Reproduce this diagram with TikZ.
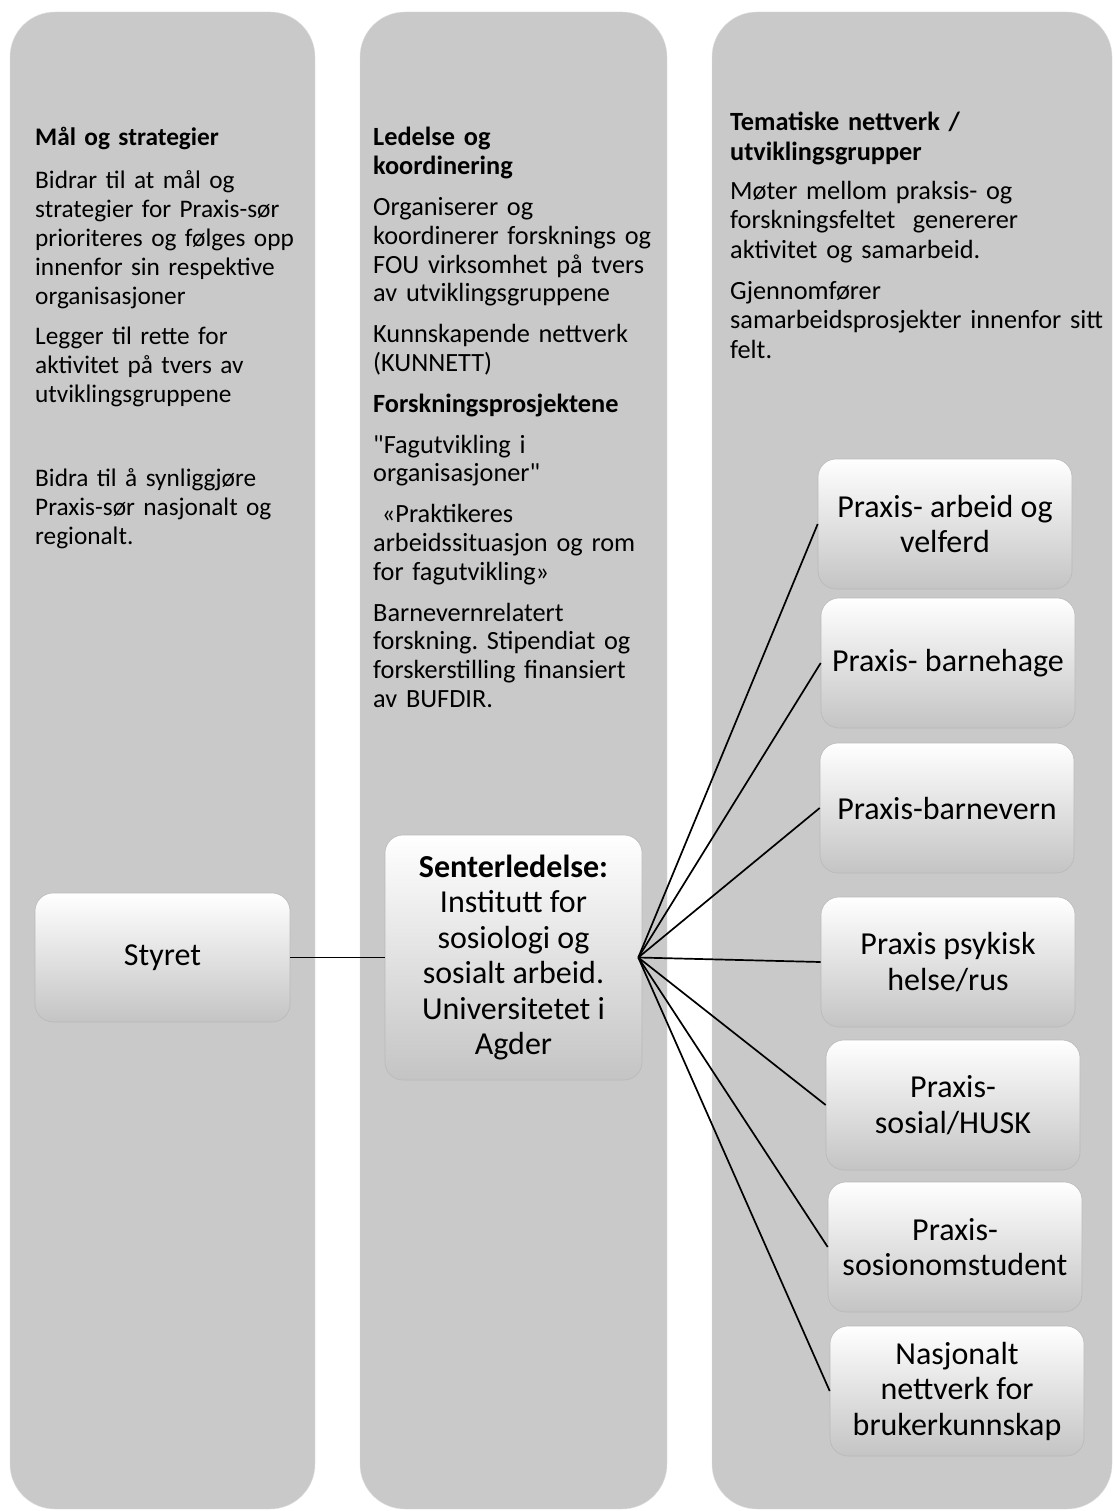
\documentclass[tikz,border=0pt]{standalone}
\usepackage{fontspec}
\setmainfont{Carlito}[Ligatures=TeXOff]
\usepackage{tikz}

\definecolor{colgray}{RGB}{201,201,201}
\definecolor{boxlow}{RGB}{196,196,196}

\tikzset{
  column/.style={fill=colgray, draw=gray!25, rounded corners=45pt},
  coltext/.style={anchor=base west, inner sep=0pt, align=left, text width=#1},
  unitbox/.style={shape=rectangle, rounded corners=18pt, draw=gray!55, line width=0.6pt,
    top color=white, bottom color=boxlow, minimum width=254pt, minimum height=130pt,
    align=center, inner sep=2pt, font=\fontsize{32}{35.5}\selectfont},
  link/.style={black, line width=1.7pt}
}

\begin{document}
\frenchspacing
\begin{tikzpicture}[x=1pt,y=-1pt]
		\useasboundingbox (0,0) rectangle (1114,1511);

		% columns
		\draw[column] (10,12) rectangle (315,1509);
		\draw[column] (360,12) rectangle (667,1509);
		\draw[column] (712,12) rectangle (1112,1509);

		% column texts
		\node[coltext=300pt, font=\fontsize{25.3}{29}\selectfont] (goals) at (35,146)
			{\textbf{Mål og strategier}\\[14pt]
			Bidrar til at mål og\\ strategier for Praxis-sør\\ prioriteres og følges opp\\ innenfor sin respektive\\ organisasjoner\\[11pt]
			Legger til rette for\\ aktivitet på tvers av\\ utviklingsgruppene\\[55pt]
			Bidra til å synliggjøre\\ Praxis-sør nasjonalt og\\ regionalt.};

		\node[coltext=320pt, font=\fontsize{26.3}{28.8}\selectfont] (lead) at (373,146)
			{\textbf{Ledelse og}\\ \textbf{koordinering}\\[12pt]
			Organiserer og\\ koordinerer forsknings og\\ FOU virksomhet på tvers\\ av utviklingsgruppene\\[12pt]
			Kunnskapende nettverk\\ (KUNNETT)\\[12pt]
			\textbf{Forskningsprosjektene}\\[12pt]
			"Fagutvikling i\\ organisasjoner"\\[12pt]
			\ «Praktikeres\\ arbeidssituasjon og rom\\ for fagutvikling»\\[12pt]
			Barnevernrelatert\\ forskning. Stipendiat og\\ forskerstilling finansiert\\ av BUFDIR.};

		\node[coltext=420pt, font=\fontsize{26.3}{29.3}\selectfont] (theme) at (730,131)
			{\textbf{Tematiske nettverk /}\\ \textbf{utviklingsgrupper}\\[10pt]
			Møter mellom praksis- og\\ forskningsfeltet \ genererer\\ aktivitet og samarbeid.\\[12pt]
			Gjennomfører\\ samarbeidsprosjekter innenfor sitt\\ felt.};

		% boxes
		\node[unitbox, minimum width=255pt, minimum height=129pt] (styret) at (162.5,957.5) {Styret};
		\node[unitbox, minimum width=257pt, minimum height=245pt] (senter) at (513.5,957.5)
			{\textbf{Senterledelse:}\\ Institutt for\\ sosiologi og\\ sosialt arbeid.\\ Universitetet i\\ Agder};

		\node[unitbox] (tema1) at (945,524) {Praxis- arbeid og\\ velferd};
		\node[unitbox] (tema2) at (948,663) {Praxis- barnehage};
		\node[unitbox] (tema3) at (947,808) {Praxis-barnevern};
		\node[unitbox] (tema4) at (948,962) {Praxis psykisk\\ helse/rus};
		\node[unitbox] (tema5) at (953,1105) {Praxis-\\ sosial/HUSK};
		\node[unitbox] (tema6) at (955,1247) {Praxis-\\ sosionomstudent};
		\node[unitbox] (tema7) at (957,1391) {Nasjonalt\\ nettverk for\\ brukerkunnskap};

		% links
		\draw[link] (styret.east) -- (senter.west);
		\foreach \i in {1,...,7}
			\draw[link] ([xshift=-4pt]senter.east) -- (tema\i.west);
\end{tikzpicture}
\end{document}
